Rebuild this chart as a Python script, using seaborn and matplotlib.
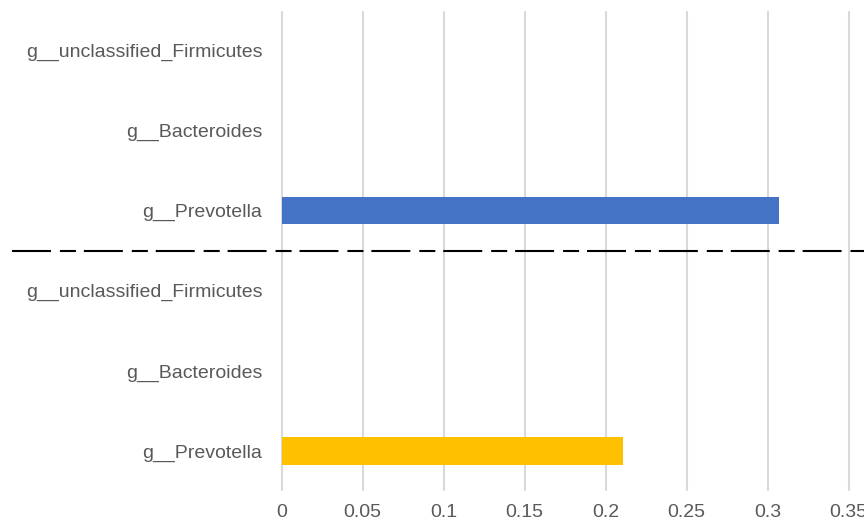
"""
Horizontal bar chart of genus abundance, two groups split by a dashed line
"""

import pandas as pd
import seaborn as sns
import matplotlib.pyplot as plt

# rows from top to bottom
row_ids = ["a_firm", "a_bact", "a_prev", "b_firm", "b_bact", "b_prev"]
row_labels = [
    "g__unclassified_Firmicutes",
    "g__Bacteroides",
    "g__Prevotella",
    "g__unclassified_Firmicutes",
    "g__Bacteroides",
    "g__Prevotella",
]
values = [0.0, 0.0, 0.307, 0.0, 0.0, 0.211]
groups = ["top", "top", "top", "bottom", "bottom", "bottom"]
group_colors = {"top": "#4472C4", "bottom": "#FFC000"}
x_ticks = [0, 0.05, 0.1, 0.15, 0.2, 0.25, 0.3, 0.35]
x_tick_labels = ["0", "0.05", "0.1", "0.15", "0.2", "0.25", "0.3", "0.35"]

TEXT_COLOR = "#595959"
GRID_COLOR = "#D9D9D9"


def run() -> None:
    df = pd.DataFrame({"row": row_ids, "value": values, "group": groups})

    sns.set_style("white")
    plt.rcParams["font.family"] = ["Liberation Sans", "DejaVu Sans"]

    fig = plt.figure(figsize=(8.64, 5.26), dpi=100)
    ax = fig.add_axes([0.326, 0.0684, 0.675, 0.9087])

    sns.barplot(
        data=df,
        x="value",
        y="row",
        hue="group",
        palette=group_colors,
        order=row_ids,
        orient="h",
        width=0.34,
        dodge=False,
        saturation=1,
        linewidth=0,
        legend=False,
        ax=ax,
    )

    ax.set_xlim(0, 0.36)
    ax.set_ylim(5.486, -0.474)
    ax.set_xticks(x_ticks)
    ax.set_xticklabels(x_tick_labels)
    ax.set_yticks(range(len(row_ids)))
    ax.set_yticklabels(row_labels)
    ax.set_xlabel("")
    ax.set_ylabel("")

    ax.grid(axis="x", color=GRID_COLOR, linewidth=1.5)
    ax.grid(axis="y", visible=False)
    ax.set_axisbelow(True)
    # keep the zero gridline from being cut in half at the axes edge
    for line in ax.get_xgridlines():
        line.set_clip_on(False)
    for spine in ax.spines.values():
        spine.set_visible(False)

    ax.tick_params(axis="x", length=0, pad=10, labelsize=14, labelcolor=TEXT_COLOR)
    ax.tick_params(axis="y", length=0, pad=14, labelsize=14, labelcolor=TEXT_COLOR)

    # dashed separator between the two groups, running past the axes
    ax.axhline(
        2.5,
        xmin=-0.463,
        xmax=1.1,
        color="black",
        linewidth=1.5,
        dashes=(18.7, 4.3, 7.7, 3.8),
        clip_on=False,
    )

    fig.savefig("out.png", dpi=100)


if __name__ == "__main__":
    run()
